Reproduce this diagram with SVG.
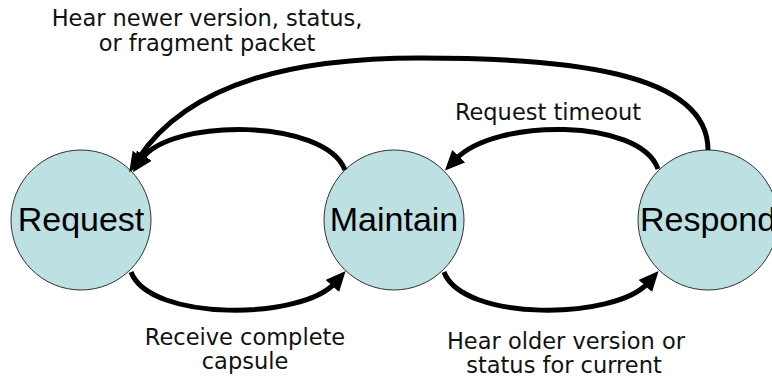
<svg xmlns="http://www.w3.org/2000/svg" width="772" height="386" viewBox="0 0 772 386">
  <style>
    .state circle { fill: #bde0e3; stroke: #333333; stroke-width: 1; }
    .state text { font-family: "Liberation Sans", Arial, sans-serif; font-size: 34px; fill: #000000; text-anchor: middle; }
    .edge { fill: none; stroke: #000000; stroke-width: 5; }
    .label { font-family: "DejaVu Sans", "Noto Sans", sans-serif; font-size: 22.5px; fill: #111111; text-anchor: middle; }
  </style>
  <defs>
    <marker id="head" markerUnits="userSpaceOnUse" markerWidth="22" markerHeight="20" refX="4" refY="9" orient="auto">
      <path d="M0,0 L20,9 L0,18 Z" fill="#000000"/>
    </marker>
  </defs>
  <rect width="772" height="386" fill="#ffffff"/>

  <g id="request" class="state">
    <circle cx="81" cy="220" r="70"/>
    <text x="81" y="231">Request</text>
  </g>
  <g id="maintain" class="state">
    <circle cx="394" cy="220" r="70"/>
    <text x="394" y="231">Maintain</text>
  </g>
  <g id="respond" class="state">
    <circle cx="708" cy="220" r="70"/>
    <text x="708" y="231">Respond</text>
  </g>

  <!-- transitions -->
  <g id="connectors">
    <!-- Respond -> Request -->
    <path class="edge" d="M708,150 C708,70 560,58 420,58 C300,58 190,80 138,159" marker-end="url(#head)"/>
    <!-- Maintain -> Request -->
    <path class="edge" d="M345,170 C325,118 170,118 142,159" marker-end="url(#head)"/>
    <!-- Respond -> Maintain -->
    <path class="edge" d="M658,169 C640,118 495,118 456,159" marker-end="url(#head)"/>
    <!-- Request -> Maintain -->
    <path class="edge" d="M131,272 C150,322 302,320 335,283" marker-end="url(#head)"/>
    <!-- Maintain -> Respond -->
    <path class="edge" d="M444,272 C463,322 615,320 648,283" marker-end="url(#head)"/>
  </g>

  <g id="labels">
    <text class="label" x="207" y="26">Hear newer version, status,</text>
    <text class="label" x="207" y="51">or fragment packet</text>
    <text class="label" x="548" y="120">Request timeout</text>
    <text class="label" x="245" y="345">Receive complete</text>
    <text class="label" x="245" y="369">capsule</text>
    <text class="label" x="566" y="349">Hear older version or</text>
    <text class="label" x="564" y="373">status for current</text>
  </g>
</svg>
